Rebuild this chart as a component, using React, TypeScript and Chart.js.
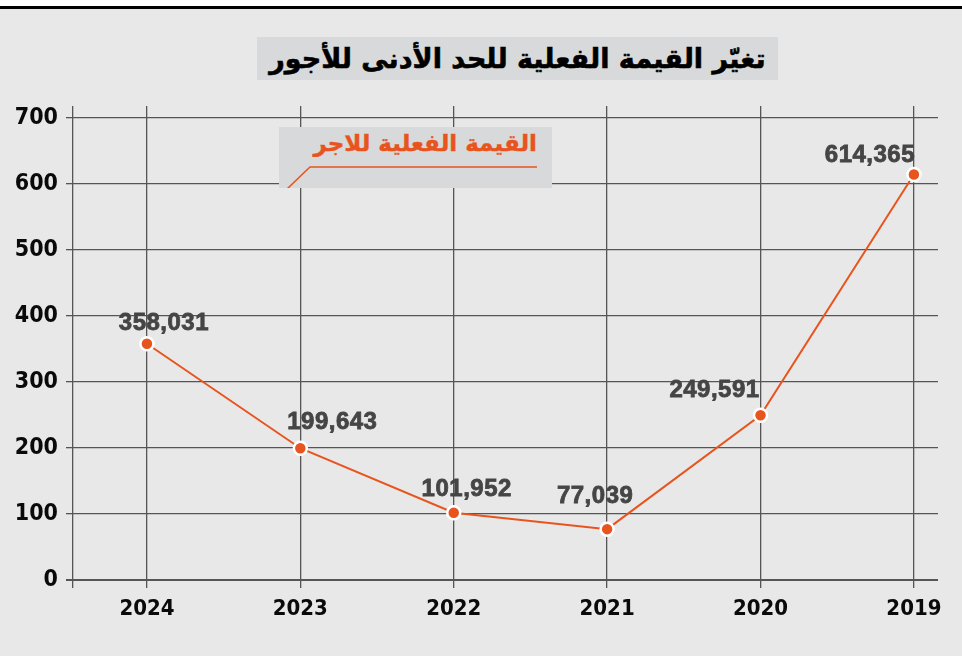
import React, { useEffect, useRef } from "react";
import { Chart, registerables } from "chart.js";

Chart.register(...registerables);

const years = ["2024", "2023", "2022", "2021", "2020", "2019"];
const realWage = [358.031, 199.643, 101.952, 77.039, 249.591, 614.365];
const yTicks = [0, 100, 200, 300, 400, 500, 600, 700];
const titleText = "تغيّر القيمة الفعلية للحد الأدنى للأجور";
const seriesName = "القيمة الفعلية للاجر";
// label offsets (dx, dy) relative to each point
const labelOffsets = [
  [17, -20],
  [32, -26],
  [13, -23],
  [-12, -33],
  [-46, -25],
  [-44, -19],
];

const ORANGE = "#e8541e";
const GRID = "#555555";
const BG = "#e8e8e8";
const X_MIN = -0.482;
const X_MAX = 5.157;
const TICK_FONT = "'DejaVu Sans Condensed', 'DejaVu Sans', sans-serif";

const fmt = (v: number) => v.toFixed(3).replace(".", ",");

const labelPlugin = {
  id: "pointLabels",
  afterDatasetsDraw(chart: any) {
    const ctx = chart.ctx;
    const meta = chart.getDatasetMeta(0);
    ctx.save();
    ctx.font = "bold 24px 'Liberation Sans', Arial, sans-serif";
    ctx.fillStyle = "#454545";
    ctx.strokeStyle = "#454545";
    ctx.lineWidth = 0.8;
    ctx.textAlign = "center";
    ctx.textBaseline = "middle";
    try {
      (ctx as any).letterSpacing = "0.5px";
    } catch (e) {}
    meta.data.forEach((pt: any, i: number) => {
      const [dx, dy] = labelOffsets[i];
      const t = fmt(realWage[i]);
      ctx.fillText(t, pt.x + dx, pt.y + dy);
      ctx.strokeText(t, pt.x + dx, pt.y + dy);
    });
    ctx.restore();
  },
};

export default function App() {
  const ref = useRef<HTMLCanvasElement | null>(null);

  useEffect(() => {
    document.body.style.margin = "0";
    const canvas = ref.current;
    if (!canvas) return;
    const chart = new Chart(canvas, {
      type: "line",
      data: {
        datasets: [
          {
            label: seriesName,
            data: years.map((_, i) => ({ x: i, y: realWage[i] })),
            borderColor: ORANGE,
            borderWidth: 2,
            backgroundColor: ORANGE,
            pointBackgroundColor: ORANGE,
            pointBorderColor: "#ffffff",
            pointBorderWidth: 2.5,
            pointRadius: 6.5,
            tension: 0,
          },
        ],
      },
      options: {
        responsive: false,
        animation: false,
        devicePixelRatio: 1,
        layout: { padding: { top: 106, right: 24, left: 0, bottom: 0 } },
        plugins: {
          legend: { display: false },
          title: { display: false },
          tooltip: { enabled: false },
        },
        scales: {
          x: {
            type: "linear",
            min: X_MIN,
            max: X_MAX,
            afterBuildTicks: (scale: any) => {
              scale.ticks = [X_MIN, ...years.map((_, i) => i)].map((v) => ({ value: v }));
            },
            afterFit: (scale: any) => {
              scale.height = 76;
            },
            border: { display: false },
            grid: {
              color: GRID,
              lineWidth: 1.3,
              tickLength: 8,
              drawOnChartArea: true,
            },
            ticks: {
              autoSkip: false,
              maxRotation: 0,
              padding: 8,
              color: "#0a0a0a",
              font: { family: TICK_FONT, size: 22, weight: "bold" },
              callback: (v: any) => {
                const n = Number(v);
                return Number.isInteger(n) && years[n] ? years[n] : "";
              },
            },
          },
          y: {
            min: 0,
            max: 718.2,
            afterBuildTicks: (scale: any) => {
              scale.ticks = yTicks.map((v) => ({ value: v }));
            },
            afterFit: (scale: any) => {
              scale.width = 73;
            },
            border: { display: false },
            grid: {
              color: GRID,
              lineWidth: (c: any) => (c.tick && c.tick.value === 0 ? 2 : 1.3),
              tickLength: 7,
            },
            ticks: {
              padding: 8,
              color: "#0a0a0a",
              font: { family: TICK_FONT, size: 23, weight: "bold" },
            },
          },
        },
      },
      plugins: [labelPlugin],
    } as any);
    return () => chart.destroy();
  }, []);

  return (
    <div
      style={{
        position: "fixed",
        left: 0,
        top: 0,
        width: 962,
        height: 656,
        background: BG,
        overflow: "hidden",
      }}
    >
      <div style={{ position: "absolute", left: 0, top: 0, width: 962, height: 6, background: "#ffffff" }} />
      <div style={{ position: "absolute", left: 0, top: 6, width: 962, height: 3, background: "#000000" }} />
      <canvas ref={ref} width={962} height={656} style={{ position: "absolute", left: 0, top: 0 }} />
      <div
        style={{
          position: "absolute",
          left: 257,
          top: 37,
          width: 521,
          height: 43,
          background: "#d8d9da",
          display: "flex",
          alignItems: "center",
          justifyContent: "center",
          direction: "rtl",
          fontFamily: "'DejaVu Sans', sans-serif",
          fontWeight: "bold",
          fontSize: 27,
          color: "#000000",
          whiteSpace: "nowrap",
          WebkitTextStroke: "0.6px #000000",
        }}
      >
        {titleText}
      </div>
      <div
        style={{
          position: "absolute",
          left: 279,
          top: 127,
          width: 273,
          height: 61,
          background: "#d8d9da",
        }}
      >
        <div
          style={{
            position: "absolute",
            right: 15,
            top: 3,
            direction: "rtl",
            fontFamily: "'DejaVu Sans', sans-serif",
            fontWeight: "bold",
            fontSize: 23,
            color: ORANGE,
            whiteSpace: "nowrap",
            WebkitTextStroke: "0.4px " + ORANGE,
          }}
        >
          {seriesName}
        </div>
        <svg width={273} height={61} style={{ position: "absolute", left: 0, top: 0 }}>
          <polyline points="258,40 31,40 8,62" fill="none" stroke={ORANGE} strokeWidth={1.5} />
        </svg>
      </div>
    </div>
  );
}
